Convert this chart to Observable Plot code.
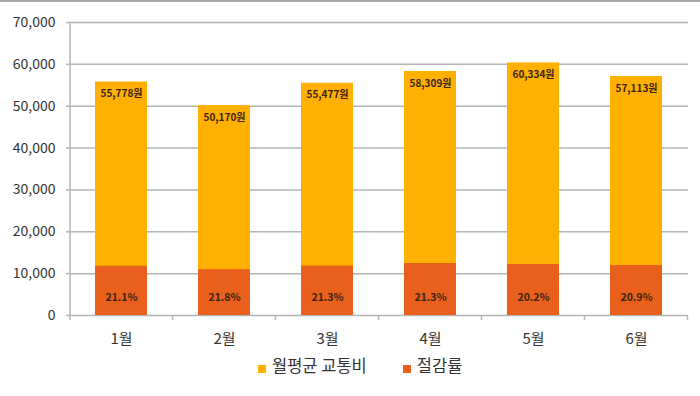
<!DOCTYPE html>
<html><head><meta charset="utf-8">
<script src="https://cdn.jsdelivr.net/npm/d3@7"></script>
<script src="https://cdn.jsdelivr.net/npm/@observablehq/plot@0.6"></script>
<style>
body{margin:0;background:#fff;font-family:"Noto Sans CJK KR","Noto Sans",sans-serif;}
#wrap{position:relative;width:700px;height:396px;overflow:hidden;border-top:2px solid #a8a8a8;box-sizing:border-box;}
#chart{position:absolute;left:0;top:-2px;}
#legend{position:absolute;top:351px;left:258px;display:flex;align-items:center;font-size:16.5px;color:#333;}
.sw{display:inline-block;width:8px;height:8px;margin-right:6px;margin-top:8px;}
.item{display:flex;align-items:center;}
</style></head>
<body><div id="wrap"><div id="chart"></div><div id="legend"></div></div>
<script>
const months = ["1월","2월","3월","4월","5월","6월"];
const avgCost = [55778, 50170, 55477, 58309, 60334, 57113];
const savingAmount = [11770, 10940, 11820, 12420, 12190, 11940];
const savingRate = ["21.1%","21.8%","21.3%","21.3%","20.2%","20.9%"];
const yTicks = [0,10000,20000,30000,40000,50000,60000,70000];
const seriesNames = ["월평균 교통비","절감률"];
const colors = ["#FFB000","#E8601C"];

const data = months.map((m,i)=>({month:m, cost:avgCost[i], saving:savingAmount[i], rate:savingRate[i]}));
const fmt = d3.format(",");

const plot = Plot.plot({
  width:700, height:350,
  marginLeft:70, marginRight:12, marginTop:22, marginBottom:35,
  style:{fontFamily:'"Noto Sans CJK KR","Noto Sans",sans-serif', background:"transparent"},
  x:{domain:months, paddingInner:0.495, paddingOuter:0.2475, label:null},
  y:{domain:[0,70000], label:null},
  marks:[
    Plot.gridY(yTicks,{stroke:"#b4b4b4", strokeOpacity:1, strokeWidth:1.5}),
    Plot.axisY(yTicks,{tickFormat:d=>fmt(d), tickSize:4, tickPadding:11, fontSize:14, fill:"#333", stroke:"#b4b4b4", strokeWidth:1.5, label:null}),
    Plot.axisX({tickSize:0, tickPadding:18, fontSize:15, fill:"#333", label:null}),
    Plot.barY(data,{x:"month", y:"cost", fill:colors[0]}),
    Plot.barY(data,{x:"month", y:"saving", fill:colors[1]}),
    Plot.text(data,{x:"month", y:"cost", text:d=>fmt(d.cost)+"원", dy:12, fontSize:10, fontWeight:"bold", fill:"#3a2410", letterSpacing:"-0.3px"}),
    Plot.text(data,{x:"month", y:0, text:"rate", dy:-18, fontSize:10.5, fontWeight:"bold", fill:"#3a2410"})
  ]
});
document.getElementById("chart").appendChild(plot);

// vertical axis line + band boundary ticks
const xs = plot.scale("x"), ys = plot.scale("y");
const svg = d3.select(plot);
const x0 = 70, y0 = ys.apply(0), yTop = ys.apply(70000);
const g = svg.append("g").attr("stroke","#b4b4b4").attr("stroke-width",1.5);
g.append("line").attr("x1",x0).attr("x2",x0).attr("y1",yTop).attr("y2",y0+5);
const step = xs.step;
months.forEach((m,i)=>{
  const bx = xs.apply(m) + xs.bandwidth/2 + step/2;
  g.append("line").attr("x1",bx).attr("x2",bx).attr("y1",y0).attr("y2",y0+5);
});

const leg = document.getElementById("legend");
seriesNames.forEach((n,i)=>{
  const it = document.createElement("div"); it.className="item";
  if(i>0) it.style.marginLeft="36px";
  const sw = document.createElement("span"); sw.className="sw"; sw.style.background=colors[i];
  const t = document.createElement("span"); t.textContent=n;
  it.appendChild(sw); it.appendChild(t); leg.appendChild(it);
});
</script></body></html>
